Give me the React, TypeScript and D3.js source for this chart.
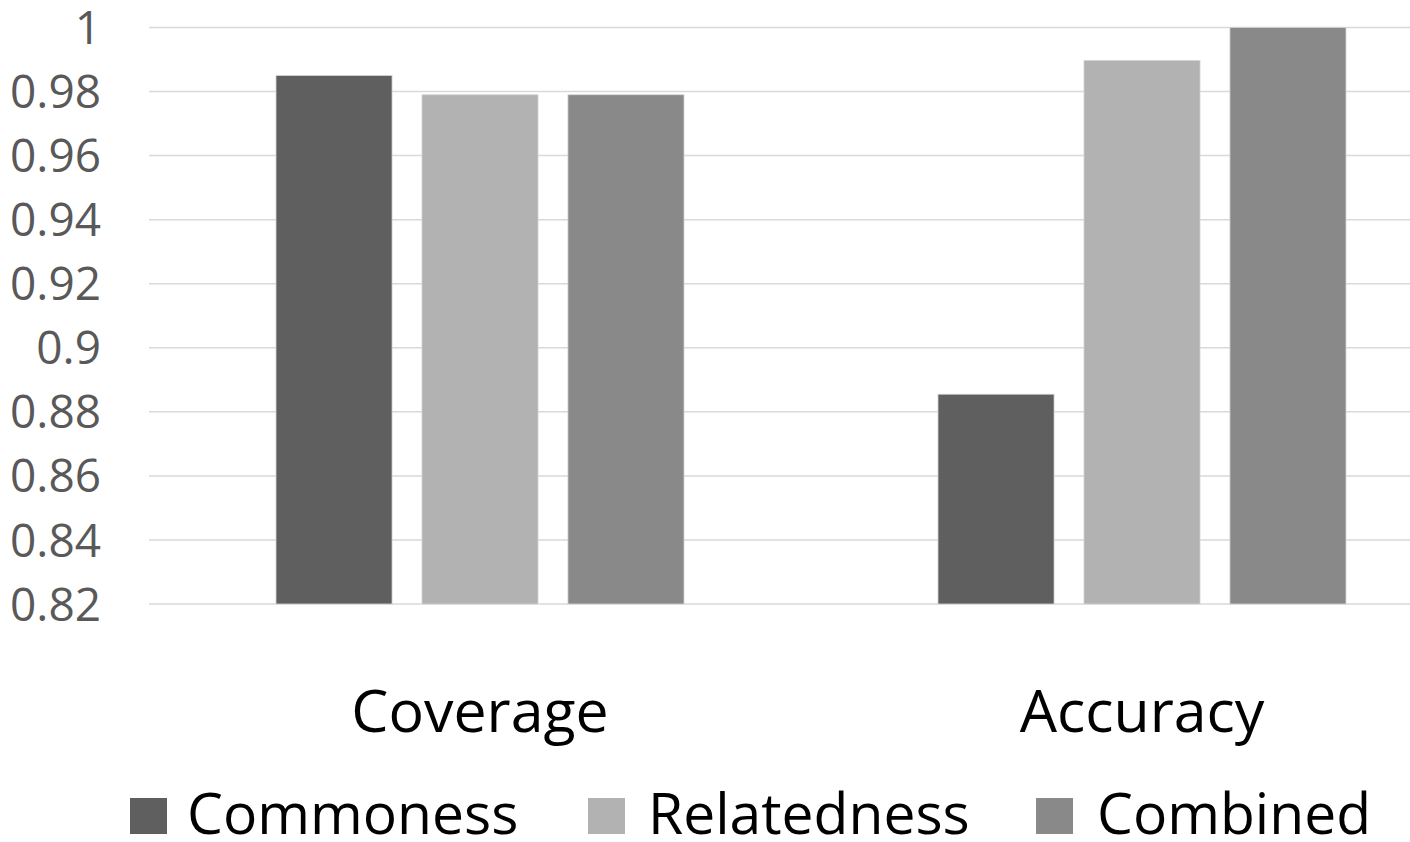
import React from "react";
import * as d3 from "d3";

const categories = ["Coverage", "Accuracy"];
const seriesNames = ["Commoness", "Relatedness", "Combined"];
const commoness = [0.985, 0.8855];
const relatedness = [0.979, 0.9897];
const combined = [0.979, 1.0];
const seriesValues = [commoness, relatedness, combined];
const seriesColors = ["#5f5f5f", "#b2b2b2", "#898989"];
const yTicks = [0.82, 0.84, 0.86, 0.88, 0.9, 0.92, 0.94, 0.96, 0.98, 1];
const tickLabels = ["0.82", "0.84", "0.86", "0.88", "0.9", "0.92", "0.94", "0.96", "0.98", "1"];

const W = 1410;
const H = 842;
const font = "'Open Sans', sans-serif";

export default function App() {
  const plotLeft = 149;
  const plotRight = 1473;
  const y = d3.scaleLinear().domain([0.82, 1]).range([604, 27.5]);
  const x0 = d3.scaleBand<string>().domain(categories).range([plotLeft, plotRight]).padding(0);
  const groupW = 408;
  const x1 = d3.scaleBand<string>().domain(seriesNames).range([0, groupW]).paddingInner(0.205).paddingOuter(0);

  const legendItems = [
    { sw: 130, tx: 187 },
    { sw: 588, tx: 648 },
    { sw: 1036, tx: 1097 },
  ];

  return (
    <svg width={W} height={H} style={{ position: "absolute", left: 0, top: 0, background: "#fff" }}>
      <rect x={0} y={0} width={W} height={H} fill="#fff" />
      {yTicks.map((t, i) => (
        <g key={t}>
          <line x1={plotLeft} x2={W} y1={y(t)} y2={y(t)} stroke="#d9d9d9" strokeWidth={1.5} />
          <text x={101} y={y(t)} dy="0.36em" textAnchor="end" fontFamily={font} fontSize={46} fill="#595959">
            {tickLabels[i]}
          </text>
        </g>
      ))}
      {categories.map((c, ci) => {
        const gx = (x0(c) as number) + (x0.bandwidth() - groupW) / 2;
        return (
          <g key={c}>
            {seriesNames.map((s, si) => {
              const v = seriesValues[si][ci];
              return (
                <rect
                  key={s}
                  x={gx + (x1(s) as number)}
                  y={y(v)}
                  width={x1.bandwidth()}
                  height={y(0.82) - y(v)}
                  fill={seriesColors[si]}
                  stroke="#d4d4d4"
                  strokeWidth={0.8}
                />
              );
            })}
            <text
              x={(x0(c) as number) + x0.bandwidth() / 2}
              y={732}
              textAnchor="middle"
              fontFamily={font}
              fontSize={59}
              fill="#000"
            >
              {c}
            </text>
          </g>
        );
      })}
      {seriesNames.map((s, i) => (
        <g key={s}>
          <rect x={legendItems[i].sw} y={798} width={37} height={36} fill={seriesColors[i]} />
          <text x={legendItems[i].tx} y={834} fontFamily={font} fontSize={57} fill="#000">
            {s}
          </text>
        </g>
      ))}
    </svg>
  );
}
